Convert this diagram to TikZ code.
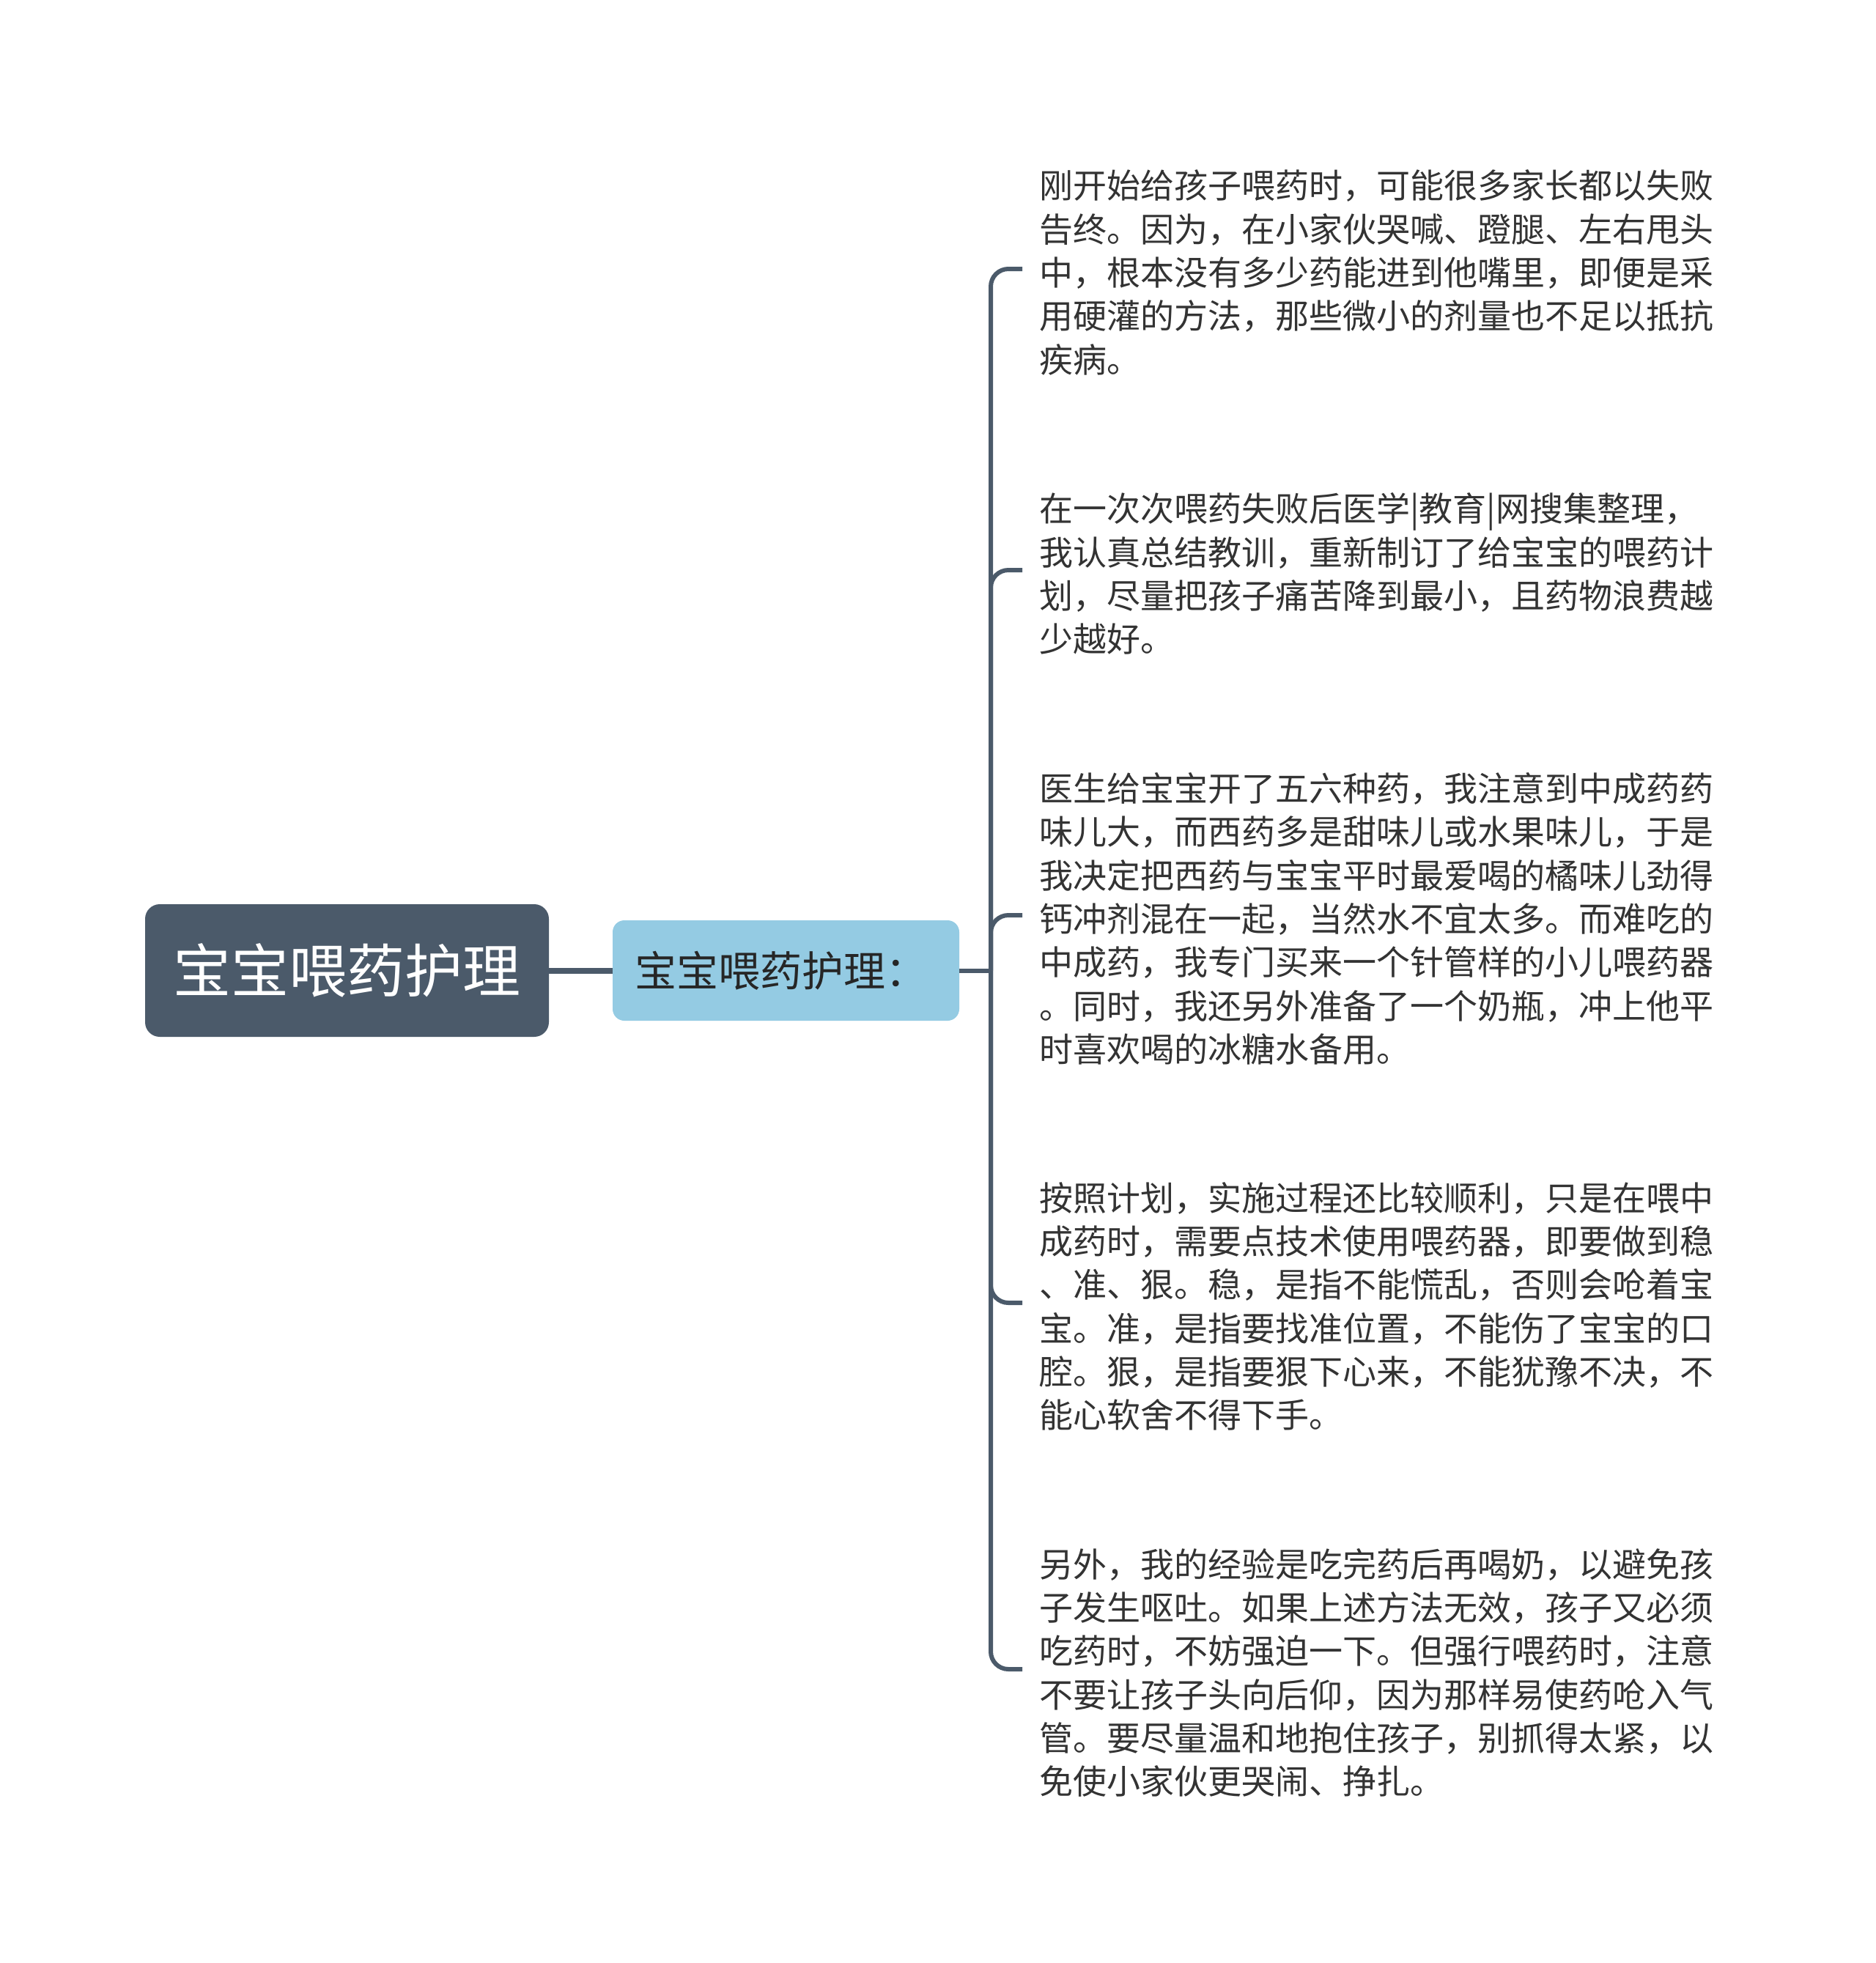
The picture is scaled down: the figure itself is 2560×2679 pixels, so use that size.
\documentclass[tikz,border=0pt]{standalone}
\usepackage{fontspec}
\usepackage{tikz}
\newfontfamily\cjk{Noto Sans CJK SC}
\definecolor{rootSlate}{RGB}{75, 90, 106}
\definecolor{topicBlue}{RGB}{148, 203, 227}
\definecolor{leafText}{RGB}{51, 51, 51}
\usetikzlibrary{calc}

\begin{document}
\begin{tikzpicture}[
    x=0.5pt, y=-0.5pt,
    rootbox/.style={rectangle, rounded corners=10pt, fill=rootSlate, text=white, minimum width=275.5pt, minimum height=90.5pt, font=\cjk\fontsize{39.5}{45}\selectfont},
    topicbox/.style={rectangle, rounded corners=8pt, fill=topicBlue, text=black!85, minimum width=236.5pt, minimum height=68.5pt, text width=206.5pt, inner xsep=15pt, align=left, font=\cjk\fontsize{28.5}{33}\selectfont},
    leaf/.style={anchor=west, inner sep=0pt, text width=462pt, align=left, text=leafText, font=\cjk\fontsize{23}{29.65}\selectfont},
    link/.style={draw=rootSlate, line width=3pt}
]
    \useasboundingbox (0,0) rectangle (2560,2679);

    \node[rootbox] (root) at (473.5,1324.5) {宝宝喂药护理};
    \node[topicbox] (topic) at (1072.5,1324.5) {宝宝喂药护理：};
    \coordinate (hub) at (1352,1324.5);

    \node[leaf] (fail) at (1418,372) {刚开始给孩子喂药时，可能很多家长都以失败\\告终。因为，在小家伙哭喊、蹬腿、左右甩头\\中，根本没有多少药能进到他嘴里，即便是采\\用硬灌的方法，那些微小的剂量也不足以抵抗\\疾病。};
    \node[leaf] (plan) at (1418,783) {在一次次喂药失败后医学|教育|网搜集整理，\\我认真总结教训，重新制订了给宝宝的喂药计\\划，尽量把孩子痛苦降到最小，且药物浪费越\\少越好。};
    \node[leaf] (mix) at (1418,1254) {医生给宝宝开了五六种药，我注意到中成药药\\味儿大，而西药多是甜味儿或水果味儿，于是\\我决定把西药与宝宝平时最爱喝的橘味儿劲得\\钙冲剂混在一起，当然水不宜太多。而难吃的\\中成药，我专门买来一个针管样的小儿喂药器\\。同时，我还另外准备了一个奶瓶，冲上他平\\时喜欢喝的冰糖水备用。};
    \node[leaf] (skill) at (1418,1783) {按照计划，实施过程还比较顺利，只是在喂中\\成药时，需要点技术使用喂药器，即要做到稳\\、准、狠。稳，是指不能慌乱，否则会呛着宝\\宝。准，是指要找准位置，不能伤了宝宝的口\\腔。狠，是指要狠下心来，不能犹豫不决，不\\能心软舍不得下手。};
    \node[leaf] (milk) at (1418,2283) {另外，我的经验是吃完药后再喝奶，以避免孩\\子发生呕吐。如果上述方法无效，孩子又必须\\吃药时，不妨强迫一下。但强行喂药时，注意\\不要让孩子头向后仰，因为那样易使药呛入气\\管。要尽量温和地抱住孩子，别抓得太紧，以\\免使小家伙更哭闹、挣扎。};

    \draw[link, line width=4pt] (root) -- (topic);
    \draw[link] (topic.east) -- (hub);
    \foreach \leafname in {fail, plan, mix, skill, milk}
        \draw[link, rounded corners=12pt] (hub) |- ($(\leafname.west)+(-23,-5)$);
\end{tikzpicture}
\end{document}
